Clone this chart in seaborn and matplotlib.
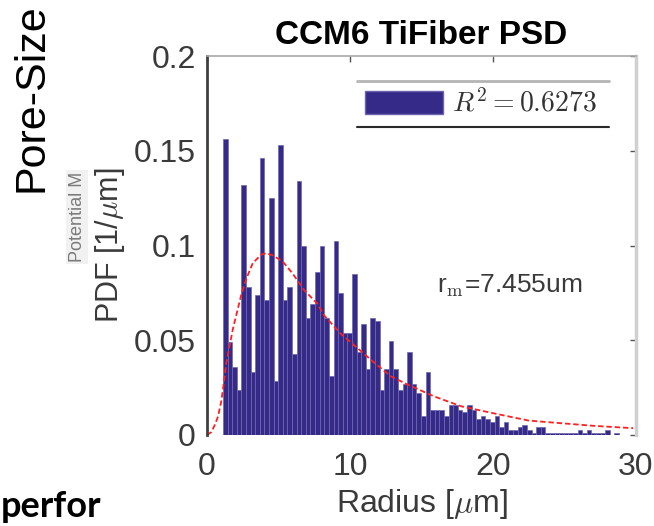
import numpy as np
import pandas as pd
import matplotlib
matplotlib.use("Agg")
import matplotlib.pyplot as plt
import seaborn as sns
from matplotlib.patches import Patch

# ---------------- data ----------------
hist_start = 1.12      # left edge of first bin [um]
hist_end = 28.81       # right edge of last bin [um]
pdf_values = [
    0.156, 0.049, 0.036, 0.024, 0.132, 0.078, 0.033, 0.074, 0.146, 0.071,
    0.125, 0.0285, 0.153, 0.071, 0.078, 0.043, 0.134, 0.0995, 0.062, 0.069,
    0.086, 0.0995, 0.062, 0.031, 0.1026, 0.075, 0.054, 0.054, 0.085, 0.0436,
    0.0587, 0.0347, 0.0617, 0.060, 0.024, 0.035, 0.0496, 0.035, 0.024, 0.0267,
    0.044, 0.0267, 0.022, 0.010, 0.033, 0.013,
    0.0133, 0.0133, 0.010, 0.016, 0.016, 0.0133, 0.012, 0.016, 0.0133, 0.0085,
    0.010, 0.0085, 0.007, 0.010, 0.0044, 0.007, 0.0027, 0.0027, 0.004, 0.0053,
    0.0027, 0.0012, 0.004, 0.004, 0.0012, 0.0008, 0.0012, 0.0010, 0.001, 0.001,
    0.0012, 0.0027, 0.0012, 0.0027, 0.0012, 0.0012, 0.0012, 0.0027, 0.0, 0.0012,
]
fit_radius = [0, 0.3, 0.56, 0.77, 1.0, 1.18, 1.35, 1.58, 1.81, 2.04, 2.39, 2.81,
              3.2, 3.78, 4.13, 4.59, 5.29, 5.98, 6.8, 7.72, 8.2, 9.37, 10.5,
              11.69, 12.85, 14.0, 15.87, 17.8, 20.2, 22.5, 24.8, 27.1, 29.8]
fit_pdf = [0, 0.0015, 0.0055, 0.0098, 0.0178, 0.0276, 0.038, 0.047, 0.056,
           0.063, 0.0738, 0.0836, 0.0907, 0.0951, 0.096, 0.0948, 0.0916, 0.0853,
           0.0764, 0.0693, 0.063, 0.0533, 0.046, 0.0382, 0.031, 0.0267, 0.0204,
           0.0151, 0.0112, 0.0076, 0.0062, 0.0048, 0.0036]
x_ticks = [0, 10, 20, 30]
y_ticks = [0, 0.05, 0.1, 0.15, 0.2]
y_tick_labels = ["0", "0.05", "0.1", "0.15", "0.2"]
title = "CCM6 TiFiber PSD"
legend_label = r"$R^2 = 0.6273$"
rm_text = r"r$_\mathrm{m}$=7.455um"
x_label = r"Radius [$\mu$m]"
y_label = r"PDF [1/$\mu$m]"

# ---------------- style ----------------
sns.set_theme(style="white")
plt.rcParams["font.family"] = ["Liberation Sans", "DejaVu Sans"]
plt.rcParams["mathtext.fontset"] = "cm"

BAR = "#352a87"
W, H = 654, 526
TOP, BOT, LEFT, RIGHT = 56, 435, 207, 636
fig = plt.figure(figsize=(W / 100, H / 100), dpi=100)
fig.patch.set_facecolor("white")
ax = fig.add_axes([LEFT / W, 1 - BOT / H, (RIGHT - LEFT) / W, (BOT - TOP) / H])
ax.set_facecolor("white")

edges = np.linspace(hist_start, hist_end, len(pdf_values) + 1)
centers = 0.5 * (edges[:-1] + edges[1:])
df = pd.DataFrame({"radius": centers, "pdf": pdf_values})
sns.histplot(x=df["radius"].to_numpy(), weights=df["pdf"].to_numpy(),
             bins=[float(e) for e in edges],
             color=BAR, alpha=1, linewidth=0.5, edgecolor="#6f68b2", ax=ax)

fit = pd.DataFrame({"r": fit_radius, "p": fit_pdf})
sns.lineplot(data=fit, x="r", y="p", color="#ff2020", lw=1.3,
             linestyle=(0, (3, 1.6)), sort=False, ax=ax, legend=False)

ax.set_xlim(0, 30)
ax.set_ylim(0, 0.2)
ax.set_xticks(x_ticks)
ax.set_xticklabels([str(t) for t in x_ticks])
ax.set_yticks(y_ticks)
ax.set_yticklabels(y_tick_labels)
ax.tick_params(direction="in", length=4, width=1, color="#555555",
               top=True, right=True, labelsize=23, labelcolor="#3a3a3a")
ax.tick_params(axis="x", pad=12)
ax.tick_params(axis="y", pad=8)

for s in ax.spines.values():
    s.set_visible(True)
ax.spines["left"].set_color("#404040")
ax.spines["left"].set_linewidth(2)
ax.spines["top"].set_color("#a8a8a8")
ax.spines["top"].set_linewidth(1.2)
ax.spines["right"].set_color("#d0d0d0")
ax.spines["right"].set_linewidth(2.5)
ax.spines["bottom"].set_visible(False)

ax.set_title(title, fontsize=24, fontweight="bold", color="black", pad=9)
ax.set_xlabel(x_label, fontsize=23, color="#3a3a3a", labelpad=4)
ax.set_ylabel(y_label, fontsize=22, color="#3a3a3a", labelpad=5)

ax.text(16.08, 0.0751, rm_text, fontsize=19, color="#3a3a3a",
        ha="left", va="baseline")

# legend
leg = ax.legend(handles=[Patch(facecolor=BAR, edgecolor="#6d64b0", lw=1)],
                labels=[legend_label], frameon=False, borderpad=0,
                borderaxespad=0, loc="center left",
                bbox_to_anchor=((365 - LEFT) / (RIGHT - LEFT),
                                (BOT - 103.5) / (BOT - TOP)),
                handlelength=2.8, handleheight=0.92, handletextpad=0.35,
                fontsize=20)
for t in leg.get_texts():
    t.set_color("#333333")
x0, x1 = (356.7 - LEFT) / (RIGHT - LEFT), (609 - LEFT) / (RIGHT - LEFT)
y_top = (BOT - 80.7) / (BOT - TOP)
y_bot = (BOT - 126.7) / (BOT - TOP)
ax.plot([x0, x1], [y_top, y_top], transform=ax.transAxes, color="#b4b4b4",
        lw=2, clip_on=False)
ax.plot([x0, x1], [y_bot, y_bot], transform=ax.transAxes, color="#2a2a2a",
        lw=1.5, clip_on=False)

# surrounding slide fragments
fig.text(32 / W, 1 - 3 / H, "Pore-Size", rotation=90, ha="center", va="top",
         fontsize=31, color="black")
fig.text(77 / W, 1 - 217 / H, "Potential M", rotation=90, ha="center",
         va="center", fontsize=13, color="#7a7a7a",
         bbox=dict(facecolor="#f1f1f1", edgecolor="none", pad=1.5))
fig.text(1 / W, 1 - 517 / H, "perfor", fontsize=26,
         fontweight="bold", family=["Lato", "DejaVu Sans"],
         color="black", ha="left", va="baseline")

fig.savefig("out.png", dpi=100, facecolor="white")
